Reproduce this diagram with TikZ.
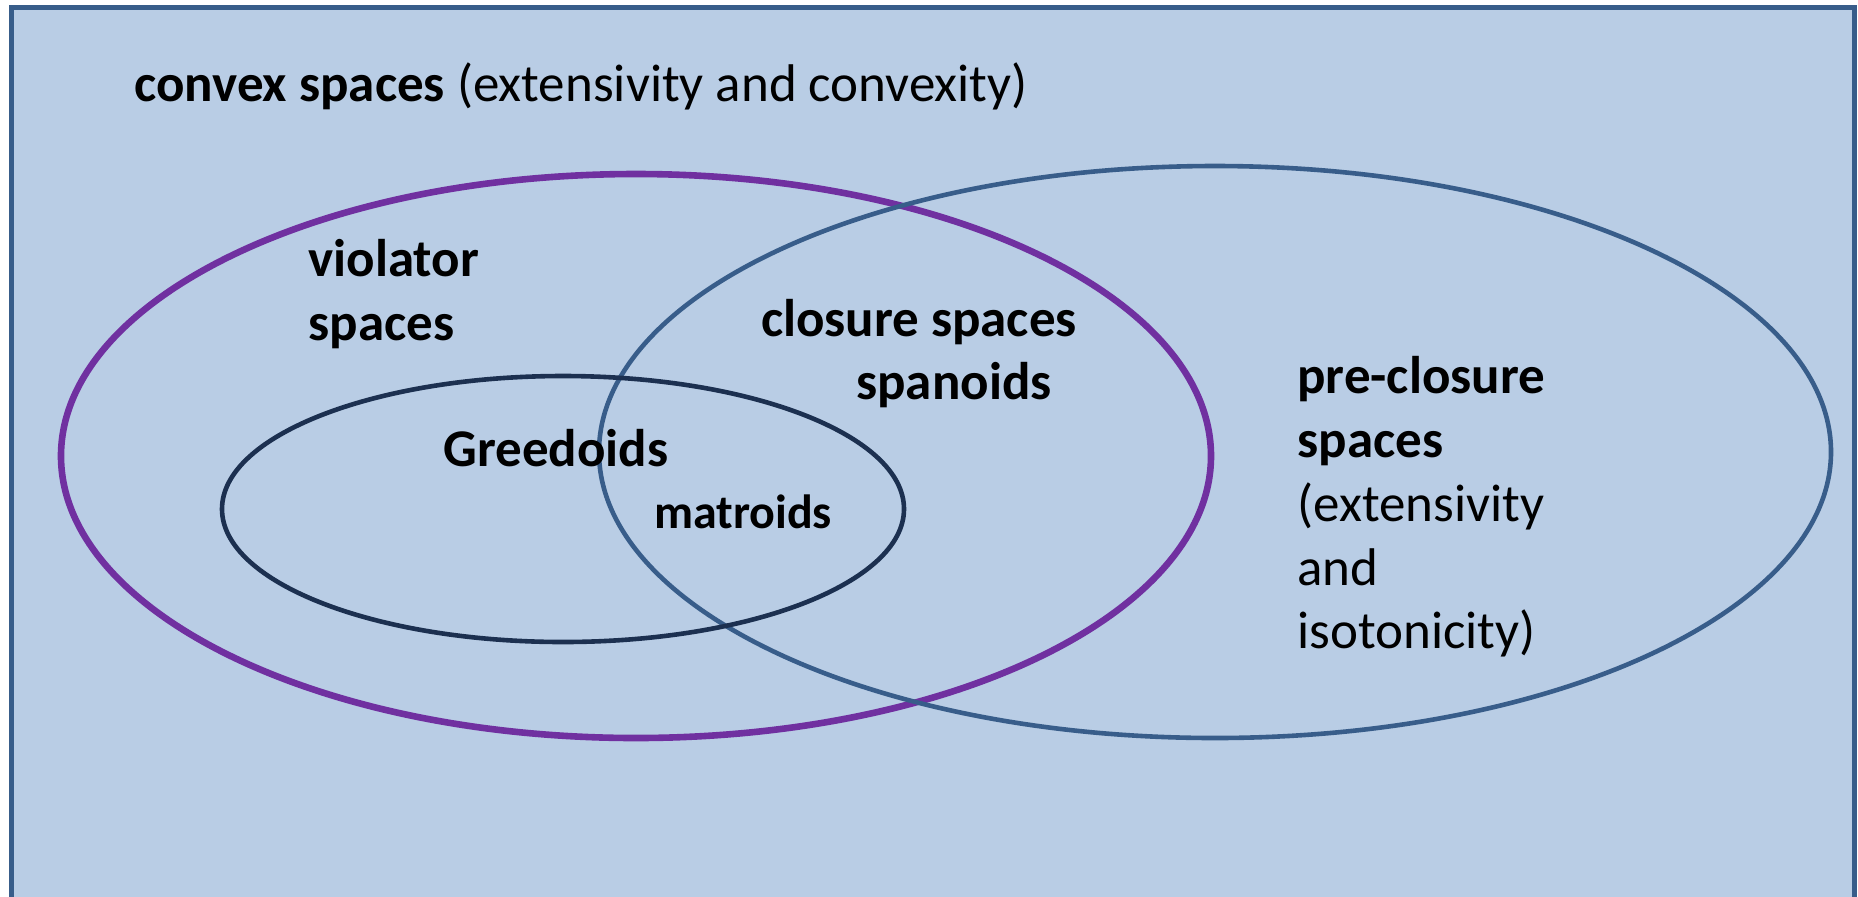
\documentclass[tikz,border=0pt]{standalone}
\usepackage{fontspec}
\setmainfont{Carlito}
\usetikzlibrary{positioning}
\definecolor{bgblue}{HTML}{B9CDE5}
\definecolor{frameblue}{HTML}{385D8A}
\definecolor{violpurple}{HTML}{7030A0}
\definecolor{darkline}{HTML}{1C3050}
\begin{document}
\begin{tikzpicture}[x=0.5pt,y=-0.5pt,every node/.style={inner sep=0pt,font=\fontsize{26.5}{31.9}\selectfont}]
  \useasboundingbox (0,0) rectangle (1858,896);
  \fill[white] (0,0) rectangle (1858,896);
  \draw[frameblue,fill=bgblue,line width=2.5pt] (11.5,7) rectangle (1854,940);

  % the three families
  \draw[violpurple,line width=3.3pt] (636,456) ellipse [x radius=575,y radius=282];
  \draw[frameblue,line width=2.3pt] (1215,452) ellipse [x radius=616,y radius=286];
  \draw[darkline,line width=2.3pt] (563,509) ellipse [x radius=341,y radius=133];

  \node[anchor=west] (convex) at (134,86) {\textbf{convex spaces} (extensivity and convexity)};
  \node[anchor=west,align=left] (violator) at (308,294) {\textbf{violator}\\\textbf{spaces}};
  \node (closure) at (919,322) {\textbf{closure spaces}};
  \node (spanoids) at (954,385) {\textbf{spanoids}};
  \node (greedoids) at (556,448) {\textbf{Greedoids}};
  \node[font=\fontsize{24}{29}\selectfont] (matroids) at (743,512) {\textbf{matroids}};
  \node[anchor=west,align=left] (preclosure) at (1297,507) {\textbf{pre-closure}\\\textbf{spaces}\\(extensivity\\and\\isotonicity)};
\end{tikzpicture}
\end{document}
